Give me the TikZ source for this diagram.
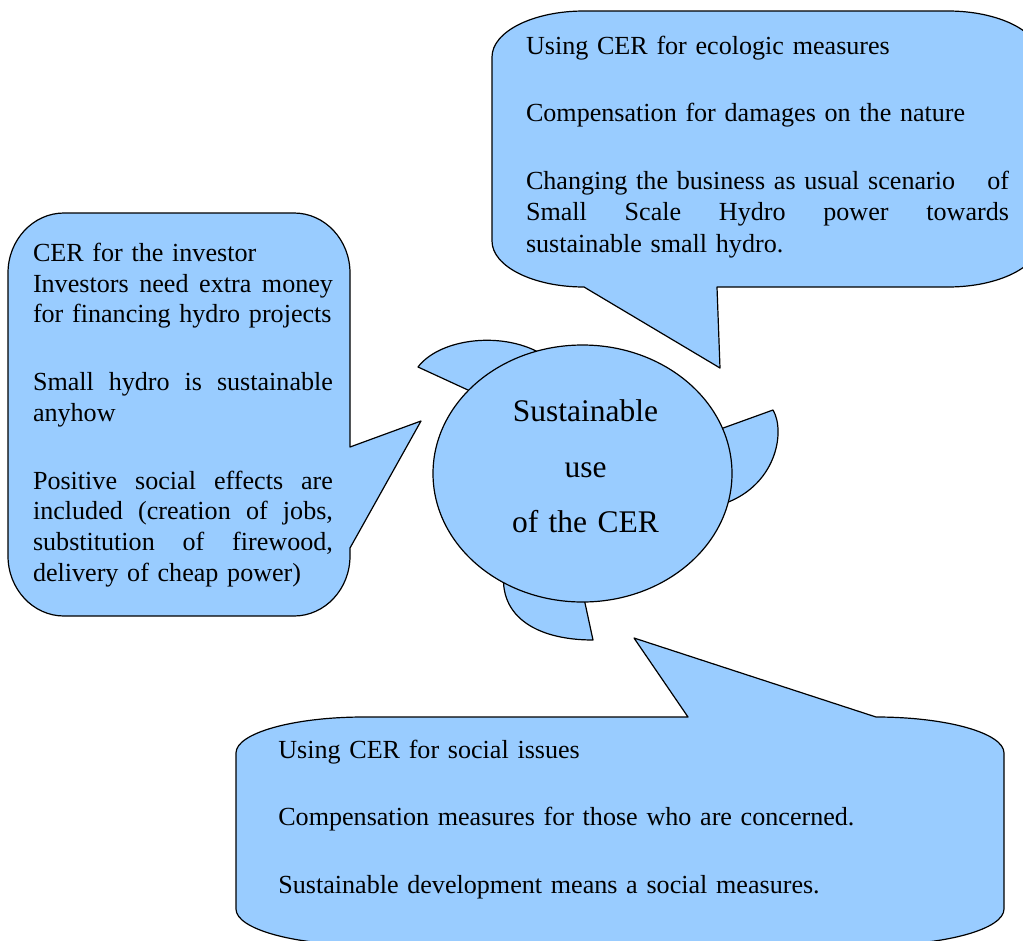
\documentclass[tikz,border=0pt]{standalone}
\usepackage{fontspec}
\setmainfont{Liberation Serif}
\usetikzlibrary{shapes.geometric}
\setlength{\parindent}{0pt}
\definecolor{bfill}{RGB}{153,204,255}
\newcommand{\jline}[2]{\leavevmode\hbox to #1{#2}}
\newcommand{\tstrut}{\rule{0pt}{20pt}}
\tikzset{
  shapefill/.style={fill=bfill, draw=black, line width=1.2pt, line join=round},
  txt/.style={inner sep=0pt, outer sep=0pt, anchor=north west, align=left}
}
\begin{document}
\begin{tikzpicture}[x=1pt,y=-1pt]
\useasboundingbox (0,0) rectangle (1023,940);
\clip (0,0) rectangle (1023,940);

% wedges behind the central ellipse
\draw[shapefill] (418,367) .. controls (440,338) and (505,330) .. (545,356) -- (545,420) -- (520,414) -- cycle;
\draw[shapefill] (773,410) -- (690,440) -- (700,505) -- (720,505) .. controls (776,488) and (786,432) .. (773,410) -- cycle;
\draw[shapefill] (505,565) .. controls (495,615) and (535,640) .. (593,640) -- (585,603) -- (578,570) -- cycle;

% central ellipse
\node[ellipse, shapefill, minimum width=299pt, minimum height=257pt, inner sep=0pt] (core) at (582.5,473.5) {};
\node[inner sep=0pt, anchor=north, text width=220pt, align=center,
      font=\fontsize{31.5}{55.8}\selectfont] (coretext) at (585.5,397) {\rule{0pt}{24pt}Sustainable\\use\\of the CER};

% top-right callout
\draw[shapefill] (492,57) -- (492,241) .. controls +(0,25.4) and +(-50.8,0) .. (584,287)
  -- (720,368) -- (717,287) -- (948,287) .. controls +(50.8,0) and +(0,25.4) .. (1040,241)
  -- (1040,57) .. controls +(0,-25.4) and +(50.8,0) .. (948,11)
  -- (584,11) .. controls +(-50.8,0) and +(0,-25.4) .. (492,57) -- cycle;
\node[txt, text width=490pt, font=\fontsize{26.1}{31.4}\selectfont] (toptext) at (526,34)
  {\tstrut Using CER for ecologic measures\\[36.3pt]
   Compensation for damages on the nature\\[36.3pt]
   \jline{483pt}{Changing the business as usual scenario\hfill of}\\
   \jline{483pt}{Small\hfill Scale\hfill Hydro\hfill power\hfill towards}\\
   sustainable small hydro.};

% left callout
\draw[shapefill] (8,273) -- (8,556) .. controls +(0,33.1) and +(-30.9,0) .. (64,616)
  -- (294,616) .. controls +(30.9,0) and +(0,33.1) .. (350,556)
  -- (350,548) -- (421,421) -- (350,447)
  -- (350,273) .. controls +(0,-33.1) and +(30.9,0) .. (294,213)
  -- (64,213) .. controls +(-30.9,0) and +(0,-33.1) .. (8,273) -- cycle;
\node[txt, text width=315pt, font=\fontsize{26.1}{30.6}\selectfont] (lefttext) at (33,241.5)
  {\tstrut CER for the investor\\
   \jline{300pt}{Investors\hfill need\hfill extra\hfill money}\\
   for financing hydro projects\\[37.4pt]
   \jline{300pt}{Small\hfill hydro\hfill is\hfill sustainable}\\
   anyhow\\[37.4pt]
   \jline{300pt}{Positive\hfill social\hfill effects\hfill are}\\
   \jline{300pt}{included\hfill (creation\hfill of\hfill jobs,}\\
   \jline{300pt}{substitution\hfill of\hfill firewood,}\\
   delivery of cheap power)};

% bottom callout
\draw[shapefill] (236,753) .. controls +(0,-19.9) and +(-70.7,0) .. (364,717)
  -- (688,717) -- (634,638) -- (876,717) .. controls +(70.7,0) and +(0,-19.9) .. (1004,753)
  -- (1004,909) .. controls +(0,19.9) and +(70.7,0) .. (876,945)
  -- (364,945) .. controls +(-70.7,0) and +(0,19.9) .. (236,909) -- cycle;
\node[txt, text width=700pt, font=\fontsize{26.1}{67.5}\selectfont] (bottomtext) at (278.3,738.3)
  {\tstrut Using CER for social issues\\
   Compensation measures for those who are concerned.\\
   Sustainable development means a social measures.};
\end{tikzpicture}
\end{document}
